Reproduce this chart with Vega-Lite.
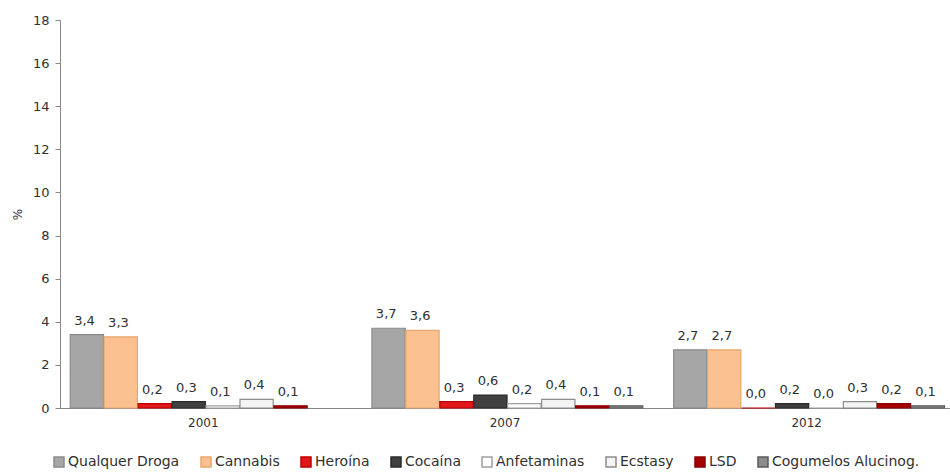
{
  "$schema": "https://vega.github.io/schema/vega-lite/v6.json",
  "width": 890,
  "height": 388,
  "autosize": {"type": "none"},
  "padding": {"left": 60, "top": 20, "right": 0, "bottom": 64},
  "background": "white",
  "config": {
    "view": {"stroke": null},
    "font": "DejaVu Sans",
    "locale": {"number": {"decimal": ",", "thousands": ".", "grouping": [3], "currency": ["", " €"]}}
  },
  "data": {
    "values": [
      {"ano": "2001", "serie": "Qualquer Droga", "valor": 3.4},
      {"ano": "2001", "serie": "Cannabis", "valor": 3.3},
      {"ano": "2001", "serie": "Heroína", "valor": 0.2},
      {"ano": "2001", "serie": "Cocaína", "valor": 0.3},
      {"ano": "2001", "serie": "Anfetaminas", "valor": 0.1},
      {"ano": "2001", "serie": "Ecstasy", "valor": 0.4},
      {"ano": "2001", "serie": "LSD", "valor": 0.1},
      {"ano": "2007", "serie": "Qualquer Droga", "valor": 3.7},
      {"ano": "2007", "serie": "Cannabis", "valor": 3.6},
      {"ano": "2007", "serie": "Heroína", "valor": 0.3},
      {"ano": "2007", "serie": "Cocaína", "valor": 0.6},
      {"ano": "2007", "serie": "Anfetaminas", "valor": 0.2},
      {"ano": "2007", "serie": "Ecstasy", "valor": 0.4},
      {"ano": "2007", "serie": "LSD", "valor": 0.1},
      {"ano": "2007", "serie": "Cogumelos Alucinog.", "valor": 0.1},
      {"ano": "2012", "serie": "Qualquer Droga", "valor": 2.7},
      {"ano": "2012", "serie": "Cannabis", "valor": 2.7},
      {"ano": "2012", "serie": "Heroína", "valor": 0.0},
      {"ano": "2012", "serie": "Cocaína", "valor": 0.2},
      {"ano": "2012", "serie": "Anfetaminas", "valor": 0.0},
      {"ano": "2012", "serie": "Ecstasy", "valor": 0.3},
      {"ano": "2012", "serie": "LSD", "valor": 0.2},
      {"ano": "2012", "serie": "Cogumelos Alucinog.", "valor": 0.1}
    ]
  },
  "encoding": {
    "x": {
      "field": "ano", "type": "nominal",
      "scale": {"paddingInner": 0.1, "paddingOuter": 0.025},
      "axis": {"title": null, "labelAngle": 0, "ticks": false, "domainColor": "#868686", "labelColor": "#303030", "labelFontSize": 12, "labelPadding": 9}
    },
    "xOffset": {
      "field": "serie", "type": "nominal",
      "sort": ["Qualquer Droga", "Cannabis", "Heroína", "Cocaína", "Anfetaminas", "Ecstasy", "LSD", "Cogumelos Alucinog."],
      "scale": {"domain": ["Qualquer Droga", "Cannabis", "Heroína", "Cocaína", "Anfetaminas", "Ecstasy", "LSD", "Cogumelos Alucinog."], "paddingInner": 0, "paddingOuter": 0}
    },
    "y": {
      "field": "valor", "type": "quantitative",
      "scale": {"domain": [0, 18]},
      "axis": {"title": "%", "titleFontWeight": "normal", "titleFontSize": 12, "titleColor": "#303030", "titlePadding": 8, "values": [0, 2, 4, 6, 8, 10, 12, 14, 16, 18], "grid": false, "domainColor": "#868686", "tickColor": "#868686", "tickSize": 5, "labelColor": "#303030", "labelFontSize": 13, "labelPadding": 6}
    }
  },
  "layer": [
    {
      "mark": {"type": "bar", "strokeWidth": 1.2, "width": {"band": 0.98}},
      "encoding": {
        "fill": {
          "field": "serie", "type": "nominal",
          "scale": {
            "domain": ["Qualquer Droga", "Cannabis", "Heroína", "Cocaína", "Anfetaminas", "Ecstasy", "LSD", "Cogumelos Alucinog."],
            "range": ["#a6a6a6", "#fac08f", "#e0191b", "#404040", "#ffffff", "#f4f4f4", "#a50000", "#8c8c8c"]
          },
          "legend": {
            "title": null, "orient": "none", "legendX": -8, "legendY": 435, "direction": "horizontal", "columns": 8,
            "symbolType": "square", "symbolSize": 100, "symbolStrokeWidth": 1.5, "labelFontSize": 14, "labelColor": "#303030",
            "labelOffset": 2, "columnPadding": 18
          }
        },
        "stroke": {
          "field": "serie", "type": "nominal",
          "scale": {
            "domain": ["Qualquer Droga", "Cannabis", "Heroína", "Cocaína", "Anfetaminas", "Ecstasy", "LSD", "Cogumelos Alucinog."],
            "range": ["#8a8a8a", "#e6a870", "#c00000", "#2a2a2a", "#a0a0a0", "#8c8c8c", "#8a0000", "#5a5a5a"]
          },
          "legend": {
            "title": null, "orient": "none", "legendX": -8, "legendY": 435, "direction": "horizontal", "columns": 8,
            "symbolType": "square", "symbolSize": 100, "symbolStrokeWidth": 1.5, "labelFontSize": 14, "labelColor": "#303030",
            "labelOffset": 2, "columnPadding": 18
          }
        }
      }
    },
    {
      "mark": {"type": "text", "baseline": "middle", "dy": -14, "fontSize": 13, "color": "#303030"},
      "encoding": {
        "text": {"field": "valor", "type": "quantitative", "format": ".1f"}
      }
    }
  ]
}
